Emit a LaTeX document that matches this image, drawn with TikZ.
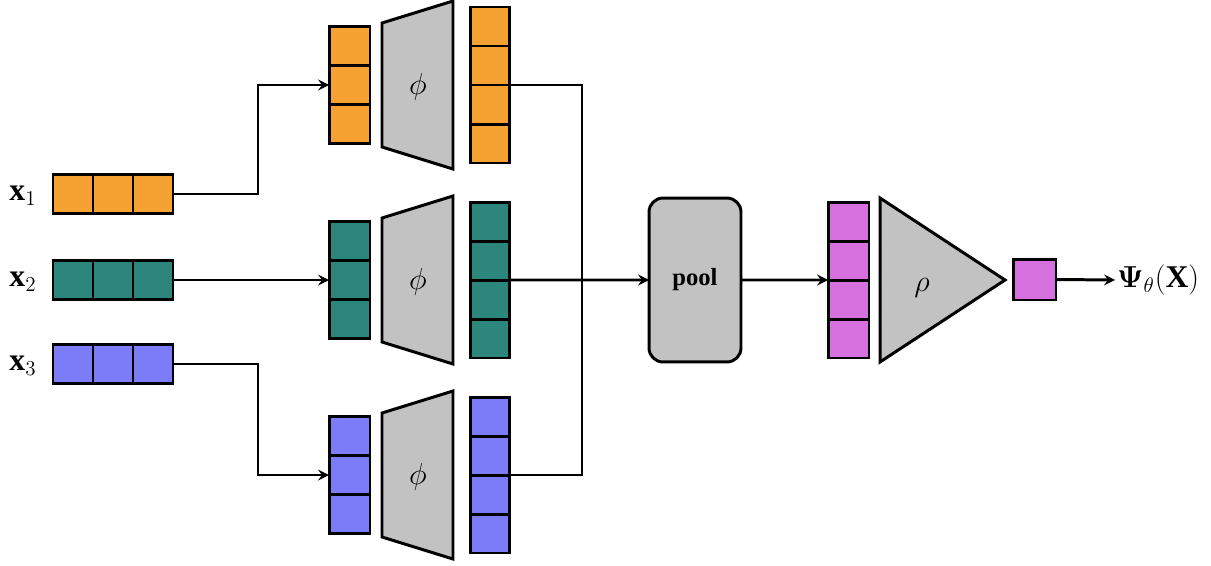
\documentclass[tikz,border=0pt]{standalone}
\usepackage{amsmath}
\usepackage{fontspec}
\setmainfont{Liberation Serif}
\usetikzlibrary{arrows}
\definecolor{setorange}{RGB}{246,162,50}
\definecolor{setteal}{RGB}{44,134,124}
\definecolor{setblue}{RGB}{124,124,246}
\definecolor{setpink}{RGB}{214,112,222}
\definecolor{netgray}{RGB}{194,194,194}
\tikzstyle{cell} = [rectangle, draw, line width=1.7pt, minimum width=0.8cm, minimum height=0.78cm, inner sep=0pt, outer sep=0pt]
\tikzstyle{net} = [draw, line width=1.7pt, fill=netgray]
\tikzstyle{pool} = [rectangle, rounded corners=8pt, draw, line width=1.7pt, fill=netgray, minimum width=1.84cm, minimum height=3.28cm, outer sep=0pt, font=\fontsize{14}{16}\selectfont]
\tikzstyle{lbl} = [font=\fontsize{18}{21}\selectfont, inner sep=1pt]
\tikzstyle{line} = [line width=1.7pt]
\tikzstyle{arrow} = [line width=1.7pt,->,>=stealth]

\begin{document}
\begin{tikzpicture}[x=0.02cm, y=-0.02cm]
            \useasboundingbox (0,0) rectangle (1211,565);

            \foreach \c/\y [count=\i] in {setorange/194, setteal/280, setblue/364} {
                \node [lbl] at (23,\y+2) (x\i) {$\mathbf{x}_\i$};
                \foreach \j in {1,2,3}
                    \node [cell, fill=\c] at (33+40*\j,\y) (a\i-\j) {};
            }
            \foreach \c/\y [count=\i] in {setorange/85, setteal/280, setblue/475} {
                \foreach \j in {1,2,3}
                    \node [cell, minimum width=0.82cm, fill=\c] at (349.5,\y-78+39*\j) (b\i-\j) {};
                \draw [net] (382,\y-62) -- (453,\y-84) -- (453,\y+84) -- (382,\y+62) -- cycle;
                \node [lbl] at (418,\y+2) (phi\i) {$\phi$};
                \foreach \j in {1,2,3,4}
                    \node [cell, minimum width=0.78cm, fill=\c] at (490,\y-97.5+39*\j) (c\i-\j) {};
            }

            \node [pool] at (695,280) (pool) {\textbf{pool}};
            \foreach \j in {1,2,3,4}
                \node [cell, minimum width=0.82cm, fill=setpink] at (848.5,182.5+39*\j) (d\j) {};
            \draw [net] (880,198) -- (1005,280) -- (880,362) -- cycle;
            \node [lbl] at (922,288) (rho) {$\rho$};
            \node [cell, minimum width=0.86cm, minimum height=0.82cm, fill=setpink] at (1034.5,279.5) (out) {};
            \node [lbl, anchor=west] at (1115,280) (psi) {$\boldsymbol{\Psi}_{\theta}(\mathbf{X})$};
            \coordinate (join) at (582,280);

            \draw [arrow] (a1-3.east) -- ++(85,0) |- (b1-2.west);
            \draw [arrow] (a2-3.east) -- (b2-2.west);
            \draw [arrow] (a3-3.east) -- ++(85,0) |- (b3-2.west);
            \draw [line] (c1-2.south east) -| (join) |- (c3-2.south east);
            \draw [arrow] (c2-2.south east) -- (pool.west);
            \draw [arrow] (pool.east) -- (d2.south west);
            \draw [arrow] (out.east) -- (psi.west);
\end{tikzpicture}
\end{document}
